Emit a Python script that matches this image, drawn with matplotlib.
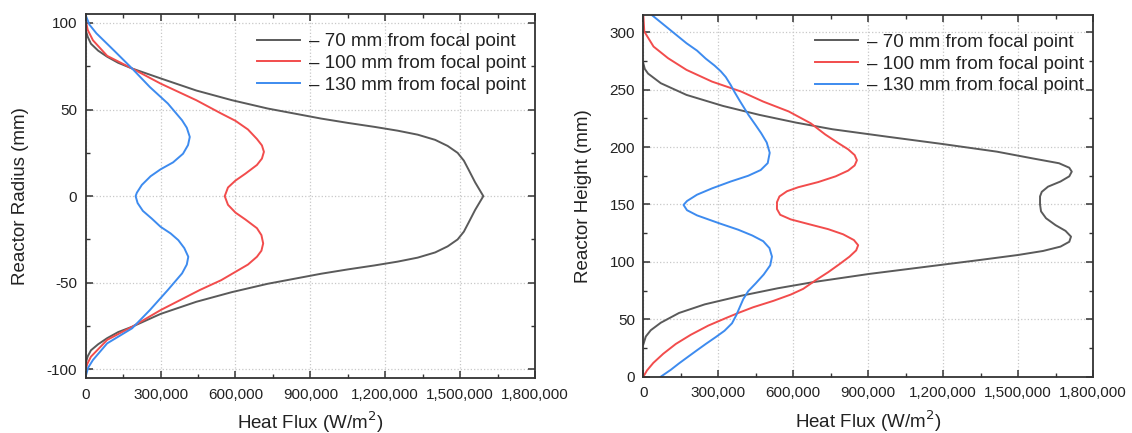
import matplotlib
matplotlib.use("Agg")
import matplotlib.pyplot as plt
from matplotlib.ticker import MultipleLocator, FuncFormatter

plt.rcParams['font.family'] = ['Liberation Sans', 'DejaVu Sans']
plt.rcParams['axes.unicode_minus'] = False

labels = ["\u2013 70 mm from focal point", "\u2013 100 mm from focal point", "\u2013 130 mm from focal point"]
colors = ["#5a5a5a", "#f24c4c", "#3d8bef"]

# Left panel: heat flux (W/m2) vs reactor radius (mm)
r70_flux = [0, 8e3, 21e3, 50e3, 86e3, 130e3, 186e3, 300e3, 443e3, 586e3, 729e3, 943e3, 1050e3, 1157e3, 1250e3,
            1330e3, 1400e3, 1450e3, 1490e3, 1515e3, 1535e3, 1560e3, 1593e3,
            1560e3, 1535e3, 1515e3, 1490e3, 1450e3, 1400e3, 1330e3, 1250e3, 1157e3, 1050e3, 943e3,
            729e3, 586e3, 443e3, 300e3, 186e3, 130e3, 86e3, 50e3, 21e3, 8e3, 0]
r70_rad = [96, 92, 88, 84, 80.5, 77, 73.7, 68, 61, 55.4, 50.6, 44.8, 42.3, 40, 37.8,
           35.5, 32.5, 29, 25, 20.5, 15, 8, 0,
           -8, -15, -20.5, -25, -29, -32.5, -35.5, -37.8, -40, -42.3, -44.8,
           -50.6, -55.4, -61, -68, -75.4, -78.5, -82, -85.5, -89, -92.5, -96.5]

r100_flux = [0, 8e3, 29e3, 86e3, 186e3, 300e3, 443e3, 543e3, 600e3, 650e3, 686e3, 706e3, 714e3, 706e3,
             686e3, 640e3, 600e3, 570e3, 557e3,
             570e3, 600e3, 640e3, 686e3, 704e3, 711e3, 704e3, 686e3, 650e3, 600e3, 543e3, 457e3,
             300e3, 186e3, 86e3, 21e3, 6e3, 0]
r100_rad = [101.5, 96, 90, 81, 73.7, 65, 55.4, 47.7, 43.5, 38.5, 33, 29.3, 25.6, 21.7,
            18, 13, 9, 5, 0,
            -5, -9.5, -13.5, -18.5, -22.5, -27.3, -31.5, -35, -39.5, -43.7, -48.5, -54.2,
            -65.8, -75.4, -83, -92.7, -97, -100.4]

r130_flux = [0, 15e3, 43e3, 114e3, 186e3, 257e3, 329e3, 386e3, 405e3, 417e3, 410e3, 390e3, 350e3,
             300e3, 260e3, 225e3, 205e3, 200e3,
             208e3, 229e3, 265e3, 300e3, 340e3, 371e3, 395e3, 411e3, 405e3, 386e3, 329e3, 257e3,
             186e3, 86e3, 29e3, 10e3, 0]
r130_rad = [104.4, 99, 94, 84, 73.7, 63, 53.5, 43.8, 39.5, 34.2, 29.5, 24.5, 19.5,
            15.5, 11.5, 6.5, 2, 0,
            -4, -8.5, -13, -17.7, -21.5, -25.4, -30, -35, -39.5, -44.6, -54.2, -65.8,
            -76.3, -85, -94.6, -99, -104]

# Right panel: heat flux (W/m2) vs reactor height (mm)
h70_flux = [0, 6e3, 19e3, 70e3, 173e3, 319e3, 465e3, 611e3, 757e3, 977e3, 1196e3, 1415e3, 1561e3, 1664e3,
            1705e3, 1715e3, 1705e3, 1670e3, 1620e3, 1595e3, 1588e3, 1588e3, 1592e3, 1612e3, 1650e3,
            1690e3, 1712e3, 1705e3, 1670e3, 1600e3, 1500e3, 1342e3, 1123e3, 904e3, 684e3, 538e3,
            392e3, 246e3, 143e3, 70e3, 30e3, 10e3, 0]
h70_hgt = [273, 268, 264, 255.6, 245.4, 235.8, 228, 221.3, 215.5, 209, 202.7, 196, 190, 185.9,
           182, 178.6, 174.5, 170, 165.5, 161, 157, 150, 144, 138, 132,
           127, 122, 117.5, 113.3, 109.5, 106, 101.5, 95.5, 89.5, 82.5, 77,
           70.5, 63, 55.5, 47, 40.5, 35, 28]

h100_flux = [0, 4e3, 41e3, 99e3, 173e3, 275e3, 392e3, 480e3, 582e3, 670e3, 728e3, 780e3, 820e3, 846e3,
             855e3, 846e3, 820e3, 770e3, 700e3, 620e3, 575e3, 545e3, 535e3, 535e3, 548e3, 590e3,
             660e3, 740e3, 800e3, 843e3, 860e3, 852e3, 825e3, 785e3, 740e3, 690e3, 640e3, 590e3,
             520e3, 440e3, 380e3, 330e3, 260e3, 190e3, 130e3, 80e3, 40e3, 15e3, 0]
h100_hgt = [315, 300.6, 287.5, 277.4, 267.2, 257, 248.3, 239.6, 231, 220.7, 211, 203.5, 198, 193,
            188.5, 184, 179.5, 174.5, 169.5, 165, 161.5, 157, 152, 146, 141, 137,
            133, 128.5, 124, 119, 114.5, 110, 104.5, 98, 91, 84, 76.5, 71.5,
            66, 60.5, 55.5, 51, 44.5, 36.5, 28.5, 20, 12, 5.5, 0]

h130_flux = [34e3, 99e3, 173e3, 215e3, 250e3, 285e3, 310e3, 330e3, 350e3, 365e3, 384e3, 421e3, 450e3,
             472e3, 494e3, 506e3,
             498e3, 470e3, 420e3, 350e3, 275e3, 215e3, 175e3, 161e3, 175e3, 215e3, 304e3, 380e3,
             436e3, 480e3, 505e3, 515e3, 508e3, 482e3, 450e3, 420e3, 400e3, 385e3, 372e3, 355e3,
             325e3, 290e3, 250e3, 216e3, 180e3, 143e3, 110e3, 70e3]
h130_hgt = [315, 303.5, 290.4, 284, 277, 271, 266, 261, 254, 248, 241, 228, 219,
            212, 204, 195,
            186, 180, 175, 170, 164, 158.5, 153, 149.6, 145, 140.5, 133.6, 128,
            123, 118, 112, 104.6, 97, 89, 81.3, 74.5, 67.5, 60, 53.5, 46.5,
            40, 34.5, 28.5, 23.2, 17.5, 11.6, 6, 0]

x_ticks = [0, 300000, 600000, 900000, 1200000, 1500000, 1800000]

fig = plt.figure(figsize=(11.32, 4.33), dpi=100)
ax1 = fig.add_axes([85.7 / 1132, 1 - 378 / 433, 449.3 / 1132, (378 - 14.3) / 433])
ax2 = fig.add_axes([643.3 / 1132, 1 - 376.7 / 433, 449.7 / 1132, (376.7 - 15) / 433])

left_series = [(r70_flux, r70_rad), (r100_flux, r100_rad), (r130_flux, r130_rad)]
right_series = [(h70_flux, h70_hgt), (h100_flux, h100_hgt), (h130_flux, h130_hgt)]

for ax, series in ((ax1, left_series), (ax2, right_series)):
    for (xs, ys), c, lab in zip(series, colors, labels):
        ax.plot(xs, ys, color=c, lw=1.4, label=lab, solid_joinstyle='round')
    ax.set_xlim(0, 1800000)
    ax.set_xticks(x_ticks)
    ax.xaxis.set_minor_locator(MultipleLocator(150000))
    ax.xaxis.set_major_formatter(FuncFormatter(lambda v, p: f"{int(round(v)):,}"))
    ax.grid(True, which='major', linestyle=':', color='#c8c8c8', linewidth=0.9)
    ax.set_axisbelow(True)
    for s in ax.spines.values():
        s.set_color('#333333')
        s.set_linewidth(1.3)
    ax.tick_params(which='both', direction='in', top=True, right=True, colors='#333333',
                   labelcolor='#222222', labelsize=11)
    ax.tick_params(which='major', length=5, width=1.1)
    ax.tick_params(which='minor', length=3, width=1.0)
    ax.tick_params(axis='x', which='major', pad=7)
    ax.tick_params(axis='y', which='major', pad=6)
    ax.set_xlabel("Heat Flux (W/m$^2$)", fontsize=13.5, color='#222222', va='top')
    ax.xaxis.set_label_coords(0.5, -0.087)
    leg = ax.legend(loc='upper right', bbox_to_anchor=(1.0, 0.974), frameon=False, fontsize=13.5,
                    handlelength=2.3, handletextpad=0.45, labelspacing=0.24, borderaxespad=0.3,
                    borderpad=0.2)
    for t in leg.get_texts():
        t.set_color('#222222')

ax1.set_ylim(-105, 105)
ax1.set_yticks([-100, -50, 0, 50, 100])
ax1.yaxis.set_minor_locator(MultipleLocator(25))
ax1.set_ylabel("Reactor Radius (mm)", fontsize=13.5, color='#222222')
ax1.yaxis.set_label_coords(-0.126, 0.5)

ax2.set_ylim(0, 315)
ax2.set_yticks([0, 50, 100, 150, 200, 250, 300])
ax2.yaxis.set_minor_locator(MultipleLocator(25))
ax2.set_ylabel("Reactor Height (mm)", fontsize=13.5, color='#222222')
ax2.yaxis.set_label_coords(-0.114, 0.5)

fig.savefig("out.png", dpi=100)
